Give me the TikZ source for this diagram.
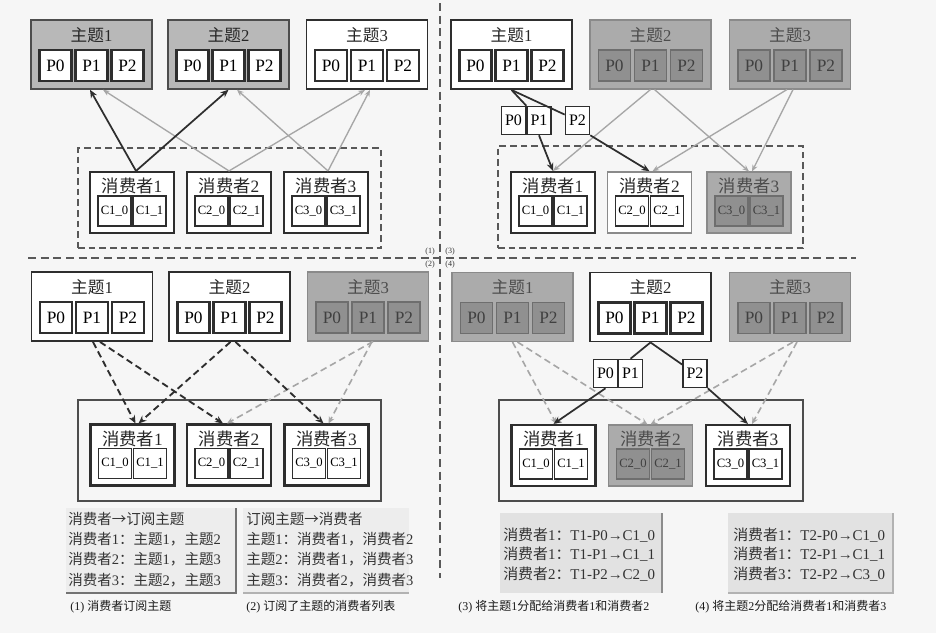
\documentclass[tikz,border=0pt]{standalone}
\usepackage{fontspec}
\setmainfont{Liberation Serif}
\newfontfamily\cjk{Noto Sans CJK SC}
\usetikzlibrary{calc,arrows.meta}
\newcommand\ZT{{\cjk 主题}}
\newcommand\XF{{\cjk 消费者}}
\definecolor{bg}{HTML}{F6F6F6}
\definecolor{dk}{HTML}{2E2E2E}
\definecolor{gfill}{HTML}{ABABAB}
\definecolor{gpfill}{HTML}{909090}
\definecolor{gborder}{HTML}{8A8A8A}
\definecolor{lgfill}{HTML}{B8B8B8}
\definecolor{lightline}{HTML}{A6A6A6}
\definecolor{tblfill}{HTML}{E2E2E2}
\definecolor{tblfillB}{HTML}{EDEDED}
\newcommand\mktopic[7]{%
  \node[#5] (#1) at (#2,#3) {};
  \node[#7] (#1-t) at ($(#1.center)+(0,-19.5)$) {\ZT#4};
  \node[#6] (#1-p0) at ($(#1.center)+(-36,11)$) {P0};
  \node[#6] (#1-p1) at ($(#1.center)+(0,11)$) {P1};
  \node[#6] (#1-p2) at ($(#1.center)+(36,11)$) {P2};
}
\newcommand\mkcons[7]{%
  \node[#5] (#1) at (#2,#3) {};
  \node[#7] (#1-t) at ($(#1.center)+(0,-16.5)$) {\XF#4};
  \node[#6] (#1-c0) at ($(#1.center)+(-17.5,8.5)$) {C#4\_0};
  \node[#6] (#1-c1) at ($(#1.center)+(17.5,8.5)$) {C#4\_1};
}
\tikzset{
  box/.style={draw, rectangle, inner sep=0pt},
  topicW/.style={box, minimum width=90.75pt, minimum height=51.75pt, fill=white, draw=dk, line width=1.4pt},
  topicL/.style={box, minimum width=90.75pt, minimum height=51.75pt, fill=lgfill, draw=dk!85, line width=1.1pt},
  topicG/.style={box, minimum width=90.75pt, minimum height=51.75pt, fill=gfill, draw=gborder, line width=0.8pt},
  pW/.style={box, minimum width=24pt, minimum height=23.25pt, fill=white, draw=dk, line width=1.6pt, font=\fontsize{13}{13}\selectfont},
  pG/.style={box, minimum width=24pt, minimum height=23.25pt, fill=gpfill, draw=gborder!80!black, line width=0.8pt, text=black!75, font=\fontsize{13}{13}\selectfont},
  consW/.style={box, minimum width=63pt, minimum height=45.75pt, fill=white, draw=dk, line width=1.6pt},
  consL/.style={box, minimum width=63pt, minimum height=45.75pt, fill=white, draw=gborder, line width=1.2pt},
  consG/.style={box, minimum width=63pt, minimum height=45.75pt, fill=gfill, draw=gborder, line width=0.8pt},
  cW/.style={box, minimum width=24.75pt, minimum height=22.5pt, fill=white, draw=dk, line width=1.4pt, font=\fontsize{9.5}{9.5}\selectfont},
  cG/.style={box, minimum width=24.75pt, minimum height=22.5pt, fill=gpfill, draw=gborder!80!black, line width=0.8pt, text=black!75, font=\fontsize{9.5}{9.5}\selectfont},
  smallp/.style={box, minimum width=18pt, minimum height=21pt, fill=white, draw=dk, line width=1.2pt, font=\fontsize{12}{12}\selectfont},
  ttl/.style={inner sep=0pt, font=\fontsize{12.5}{12.5}\selectfont, text=black!85},
  ttlG/.style={inner sep=0pt, font=\fontsize{12.5}{12.5}\selectfont, text=black!70},
  cttl/.style={inner sep=0pt, font=\fontsize{13}{13}\selectfont, text=black!85},
  cttlG/.style={inner sep=0pt, font=\fontsize{13}{13}\selectfont, text=black!70},
  grpD/.style={box, draw=dk!80, line width=1pt, dash pattern=on 5pt off 3pt},
  grpS/.style={box, draw=dk!85, line width=1pt},
  darkarr/.style={draw=dk, line width=1.3pt, -{Stealth[length=6pt,width=5pt]}},
  darkln/.style={draw=dk, line width=1.3pt},
  grayarr/.style={draw=lightline, line width=1pt, -{Stealth[length=5pt,width=4pt]}},
  darkdash/.style={draw=dk, line width=1.4pt, dash pattern=on 5pt off 3pt, -{Stealth[length=6pt,width=5pt]}},
  graydash/.style={draw=lightline, line width=1.2pt, dash pattern=on 5pt off 3pt, -{Stealth[length=5pt,width=4.5pt]}},
  divider/.style={draw=black!65, line width=1pt, dash pattern=on 6pt off 3.5pt},
  tbl/.style={inner sep=0pt, align=left, font=\fontsize{10.9}{15.2}\selectfont, text=black!80},
  tblB/.style={inner sep=0pt, align=left, font=\fontsize{11.2}{14.6}\selectfont, text=black!80},
  capt/.style={inner sep=0pt, anchor=west, font=\fontsize{9}{9}\selectfont, text=black!90},
  xlbl/.style={inner sep=0pt, font=\fontsize{6}{6}\selectfont, text=black!80}
}
\begin{document}
\begin{tikzpicture}[x=0.75pt,y=-0.75pt]
\useasboundingbox (0,0) rectangle (936,633);
\fill[bg] (0,0) rectangle (936,633);

% dividers
\draw[divider] (28,258) -- (856,258);
\draw[divider] (440,3) -- (440,578);
\node[xlbl] (l1) at (430,252) {(1)};
\node[xlbl] (l3) at (450,252) {(3)};
\node[xlbl] (l2) at (430,265) {(2)};
\node[xlbl] (l4) at (450,265) {(4)};

% ---------- quadrant (1)
\node[grpD, minimum width=227.25pt, minimum height=75pt] (q1g) at (229.5,198) {};
\mktopic{q1t1}{91.5}{54.5}{1}{topicL}{pW}{ttl}
\mktopic{q1t2}{228.5}{54.5}{2}{topicL}{pW}{ttl}
\mktopic{q1t3}{367}{54.5}{3}{topicW}{pW}{ttl}
\mkcons{q1c1}{132}{202.5}{1}{consW}{cW}{cttl}
\mkcons{q1c2}{229}{202.5}{2}{consW}{cW}{cttl}
\mkcons{q1c3}{326}{202.5}{3}{consW}{cW}{cttl}
\draw[grayarr] (q1c2.north) -- ($(q1t1.south)+(11.5,0)$);
\draw[grayarr] (q1c2.north) -- ($(q1t3.south)+(-2,0)$);
\draw[grayarr] ($(q1c3.north)+(2,0)$) -- ($(q1t2.south)+(8.5,0)$);
\draw[grayarr] ($(q1c3.north)+(2,0)$) -- ($(q1t3.south)+(3,0)$);
\draw[darkarr] ($(q1c1.north)+(4,0)$) -- ($(q1t1.south)+(-1.5,0)$);
\draw[darkarr] ($(q1c1.north)+(4,0)$) -- (q1t2.south);

% ---------- quadrant (3)
\node[grpD, minimum width=228.75pt, minimum height=76.5pt] (q3g) at (650.5,197) {};
\mktopic{q3t1}{511.5}{54.5}{1}{topicW}{pW}{ttl}
\mktopic{q3t2}{650.5}{54.5}{2}{topicG}{pG}{ttlG}
\mktopic{q3t3}{790}{54.5}{3}{topicG}{pG}{ttlG}
\mkcons{q3c1}{553}{202.5}{1}{consW}{cW}{cttl}
\mkcons{q3c2}{649.5}{202.5}{2}{consL}{cW}{cttl}
\mkcons{q3c3}{749}{202.5}{3}{consG}{cG}{cttlG}
\node[smallp] (q3sp0) at (513.5,120.5) {P0};
\node[smallp] (q3sp1) at (539,120.5) {P1};
\node[smallp] (q3sp2) at (577.5,120.5) {P2};
\draw[grayarr] (q3t2.south) -- (q3c1.north);
\draw[grayarr] ($(q3t2.south)+(4,0)$) -- (q3c3.north);
\draw[grayarr] ($(q3t3.south)+(-3,0)$) -- ($(q3c2.north)+(3,0)$);
\draw[grayarr] ($(q3t3.south)+(3,0)$) -- ($(q3c3.north)+(3,0)$);
\draw[darkln] (q3t1.south) -- (q3sp0.north east);
\draw[darkln] (q3t1.south) -- (q3sp2);
\draw[darkarr] (q3sp1.south) -- (q3c1.north);
\draw[darkarr] (q3sp2.south east) -- (q3c2.north);

% ---------- quadrant (2)
\node[grpS, minimum width=227.25pt, minimum height=75.75pt] (q2g) at (229.5,450.5) {};
\mktopic{q2t1}{92}{306.5}{1}{topicW}{pW}{ttl}
\mktopic{q2t2}{229.5}{306.5}{2}{topicW}{pW}{ttl}
\mktopic{q2t3}{368}{306.5}{3}{topicG}{pG}{ttlG}
\mkcons{q2c1}{132.5}{455}{1}{consW}{cW}{cttl}
\mkcons{q2c2}{229}{455}{2}{consW}{cW}{cttl}
\mkcons{q2c3}{326.5}{455}{3}{consW}{cW}{cttl}
\draw[graydash] ($(q2t3.south)+(5,0)$) -- ($(q2c2.north)+(-2,0)$);
\draw[graydash] ($(q2t3.south)+(4,0)$) -- ($(q2c3.north)+(2,0)$);
\draw[darkdash] ($(q2t1.south)+(1,0)$) -- ($(q2c1.north)+(3,0)$);
\draw[darkdash] ($(q2t1.south)+(8,0)$) -- ($(q2c2.north)+(-6,0)$);
\draw[darkdash] ($(q2t2.south)+(1,0)$) -- ($(q2c1.north)+(6,0)$);
\draw[darkdash] ($(q2t2.south)+(6,0)$) -- ($(q2c3.north)+(-3,0)$);

% ---------- quadrant (4)
\node[grpS, minimum width=228pt, minimum height=75.75pt] (q4g) at (651,450.5) {};
\mktopic{q4t1}{512.5}{307}{1}{topicG}{pG}{ttlG}
\mktopic{q4t2}{650.5}{307}{2}{topicW}{pW}{ttl}
\mktopic{q4t3}{790}{307}{3}{topicG}{pG}{ttlG}
\mkcons{q4c1}{553.5}{455.5}{1}{consW}{cW}{cttl}
\mkcons{q4c2}{650.5}{455.5}{2}{consG}{cG}{cttlG}
\mkcons{q4c3}{748}{455.5}{3}{consW}{cW}{cttl}
\node[smallp] (q4sp0) at (605.5,373.5) {P0};
\node[smallp] (q4sp1) at (630.5,373.5) {P1};
\node[smallp] (q4sp2) at (695,373.5) {P2};
\draw[graydash] (q4t1.south) -- ($(q4c1.north)+(3,0)$);
\draw[graydash] ($(q4t1.south)+(5,0)$) -- ($(q4c2.north)+(-3,0)$);
\draw[graydash] ($(q4t3.south)+(3,0)$) -- (q4c2.north);
\draw[graydash] ($(q4t3.south)+(7,0)$) -- ($(q4c3.north)+(4,0)$);
\draw[darkln] (q4t2.south) -- (q4sp1.north);
\draw[darkln] (q4t2.south) -- (q4sp2);
\draw[darkarr] (q4sp0.south) -- (q4c1.north);
\draw[darkarr] (q4sp2.south east) -- (q4c3.north);

% ---------- tables
\fill[tblfillB] (66,508) rectangle (236,593);
\draw[black!55, line width=0.9pt] (66,593) -- (236,593) -- (236,508);
\fill[tblfillB] (243,508) rectangle (409,593);
\draw[black!30, line width=0.8pt] (243,593) -- (409,593);
\fill[tblfill] (500,513) rectangle (662,593);
\draw[black!45, line width=0.8pt] (662,513) -- (662,593);
\fill[tblfill] (728,513) rectangle (893,593);
\draw[black!30, line width=0.8pt] (728,593) -- (893,593) -- (893,513);

\node[tbl, anchor=west] (tb1) at (68,549.5) {{\cjk 消费者→订阅主题}\\
\XF1{\cjk ：}\ZT1{\cjk ，}\ZT2\\
\XF2{\cjk ：}\ZT1{\cjk ，}\ZT3\\
\XF3{\cjk ：}\ZT2{\cjk ，}\ZT3};
\node[tbl, anchor=west] (tb2) at (246,549.5) {{\cjk 订阅主题→消费者}\\
\ZT1{\cjk ：}\XF1{\cjk ，}\XF2\\
\ZT2{\cjk ：}\XF1{\cjk ，}\XF3\\
\ZT3{\cjk ：}\XF2{\cjk ，}\XF3};
\node[tblB, anchor=west] (tb3) at (503,554.5) {\XF1{\cjk ：}T1-P0→C1\_0\\
\XF1{\cjk ：}T1-P1→C1\_1\\
\XF2{\cjk ：}T1-P2→C2\_0};
\node[tblB, anchor=west] (tb4) at (733,554.5) {\XF1{\cjk ：}T2-P0→C1\_0\\
\XF1{\cjk ：}T2-P1→C1\_1\\
\XF3{\cjk ：}T2-P2→C3\_0};

% ---------- captions
\node[capt] (cap1) at (70,607) {(1) {\cjk 消费者订阅主题}};
\node[capt] (cap2) at (246,607) {(2) {\cjk 订阅了主题的消费者列表}};
\node[capt] (cap3) at (458,607) {(3) {\cjk 将主题}1{\cjk 分配给消费者}1{\cjk 和消费者}2};
\node[capt] (cap4) at (695,607) {(4) {\cjk 将主题}2{\cjk 分配给消费者}1{\cjk 和消费者}3};
\end{tikzpicture}
\end{document}
